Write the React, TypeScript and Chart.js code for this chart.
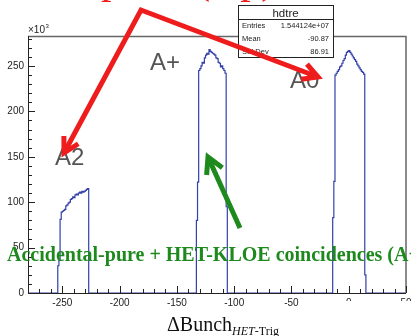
import React, { useEffect, useRef } from "react";
import { Chart, registerables } from "chart.js";

Chart.register(...registerables);

// ---- axis ranges / ticks ----
const X_MIN = -280;
const X_MAX = 50;
const Y_MAX = 283; // in units of 10^3
const X_TICKS = [-250, -200, -150, -100, -50, 0, 50];
const Y_TICKS = [0, 50, 100, 150, 200, 250];

// ---- histogram contents (bin width 1, counts in 10^3) ----
const A2_START = -254;
const A2_COUNTS = [30, 36, 81, 89, 90, 91, 92, 96, 97, 99, 100, 103, 104, 106, 105, 108, 109, 108, 110, 111, 110, 112, 111, 112, 113, 114, 115];
const APLUS_START = -133;
const APLUS_COUNTS = [80, 122, 245, 247, 250, 254, 253, 259, 262, 264, 263, 268, 266, 265, 264, 263, 262, 259, 258, 254, 253, 249, 250, 247, 245, 242, 95];
const A0_START = -14;
const A0_COUNTS = [83, 123, 240, 242, 244, 246, 249, 250, 253, 256, 258, 262, 265, 266, 267, 265, 263, 261, 259, 257, 255, 252, 250, 248, 246, 244, 243, 241, 20];

// ---- stats box ----
const HIST_NAME = "hdtre";
const STAT_LABELS = ["Entries", "Mean", "Std Dev"];
const STAT_VALUES = ["1.544124e+07", "-90.87", "86.91"];

// ---- annotations text ----
const PEAK_LABELS = ["A+", "A0", "A2"];
const RED_TEXT_1 = "Accidental-pure";
const RED_TEXT_2 = "(Ap)";
const GREEN_TEXT = "Accidental-pure + HET-KLOE coincidences (A+ sample)";

function buildPoints() {
  const m = new Map<number, number>();
  const peaks: [number, number[]][] = [
    [A2_START, A2_COUNTS],
    [APLUS_START, APLUS_COUNTS],
    [A0_START, A0_COUNTS],
  ];
  peaks.forEach(([s, arr]) => arr.forEach((v, i) => m.set(s + i, v)));
  const pts: { x: number; y: number }[] = [];
  for (let b = X_MIN; b < X_MAX; b++) pts.push({ x: b, y: m.get(b) ?? 0 });
  pts.push({ x: X_MAX, y: 0 });
  return pts;
}

function polyline(ctx: CanvasRenderingContext2D, pts: number[][], color: string, w: number) {
  ctx.save();
  ctx.strokeStyle = color;
  ctx.lineWidth = w;
  ctx.lineJoin = "miter";
  ctx.lineCap = "butt";
  ctx.beginPath();
  ctx.moveTo(pts[0][0], pts[0][1]);
  for (let i = 1; i < pts.length; i++) ctx.lineTo(pts[i][0], pts[i][1]);
  ctx.stroke();
  ctx.restore();
}

function head(ctx: CanvasRenderingContext2D, fx: number, fy: number, tx: number, ty: number, color: string, w: number, len: number) {
  const a = Math.atan2(ty - fy, tx - fx);
  const sp = 0.5;
  ctx.save();
  ctx.strokeStyle = color;
  ctx.lineWidth = w;
  ctx.lineJoin = "miter";
  ctx.beginPath();
  ctx.moveTo(tx - len * Math.cos(a - sp), ty - len * Math.sin(a - sp));
  ctx.lineTo(tx, ty);
  ctx.lineTo(tx - len * Math.cos(a + sp), ty - len * Math.sin(a + sp));
  ctx.stroke();
  ctx.restore();
}

const overlay = {
  id: "rootOverlay",
  afterDraw(chart: any) {
    const ctx: CanvasRenderingContext2D = chart.ctx;
    const { left, right, top, bottom } = chart.chartArea;
    const xs = chart.scales.x;
    const ys = chart.scales.y;
    ctx.save();

    // frame
    ctx.strokeStyle = "#666";
    ctx.lineWidth = 1.5;
    ctx.beginPath();
    ctx.moveTo(left, top + 0.5);
    ctx.lineTo(right, top + 0.5);
    ctx.lineTo(right, bottom);
    ctx.stroke();
    ctx.strokeStyle = "#222";
    ctx.lineWidth = 1;
    ctx.beginPath();
    ctx.moveTo(left + 0.5, top);
    ctx.lineTo(left + 0.5, bottom + 0.5);
    ctx.lineTo(right, bottom + 0.5);
    ctx.stroke();

    // inside ticks
    ctx.beginPath();
    for (let v = X_MIN; v <= X_MAX; v += 10) {
      const px = Math.round(xs.getPixelForValue(v)) + 0.5;
      const len = v % 50 === 0 ? 7 : 4;
      ctx.moveTo(px, bottom);
      ctx.lineTo(px, bottom - len);
    }
    for (let v = 0; v <= Y_MAX; v += 10) {
      const py = Math.round(ys.getPixelForValue(v)) + 0.5;
      const len = v % 50 === 0 ? 7 : 4;
      ctx.moveTo(left, py);
      ctx.lineTo(left + len, py);
    }
    ctx.stroke();

    // x10^3
    ctx.fillStyle = "#222";
    ctx.font = '10px "Liberation Sans"';
    ctx.textAlign = "left";
    ctx.textBaseline = "alphabetic";
    ctx.fillText("\u00d710", left, top - 3);
    const w10 = ctx.measureText("\u00d710").width;
    ctx.font = '6px "Liberation Sans"';
    ctx.fillText("3", left + w10 + 0.5, top - 8);

    // cover (as in the reference, lower right labels are partly hidden)
    ctx.fillStyle = "#fff";
    ctx.fillRect(330, 301, 90, 40);

    // stats box
    const bx = 238, by = 5, bw = 95, bh = 52;
    ctx.fillStyle = "#fff";
    ctx.fillRect(bx, by, bw, bh);
    ctx.strokeStyle = "#222";
    ctx.lineWidth = 1;
    ctx.strokeRect(bx + 0.5, by + 0.5, bw, bh);
    ctx.beginPath();
    ctx.moveTo(bx, by + 14.5);
    ctx.lineTo(bx + bw, by + 14.5);
    ctx.stroke();
    ctx.fillStyle = "#222";
    ctx.font = '11.5px "Liberation Sans"';
    ctx.textAlign = "center";
    ctx.textBaseline = "alphabetic";
    ctx.fillText(HIST_NAME, bx + bw / 2, by + 11.5);
    ctx.font = '7.5px "Liberation Sans"';
    STAT_LABELS.forEach((lab, i) => {
      const yy = by + 23 + i * 13.2;
      ctx.textAlign = "left";
      ctx.fillText(lab, bx + 4, yy);
      ctx.textAlign = "right";
      ctx.fillText(STAT_VALUES[i], bx + bw - 4, yy);
    });

    // peak labels
    ctx.fillStyle = "#555";
    ctx.font = '24px "Liberation Sans"';
    ctx.textAlign = "left";
    ctx.fillText(PEAK_LABELS[0], 150, 70);
    ctx.fillText(PEAK_LABELS[1], 290, 88);
    ctx.fillText(PEAK_LABELS[2], 55, 165);

    // red title (almost entirely above the picture: only descenders show)
    const red = "#ee1c1c";
    ctx.fillStyle = red;
    ctx.font = '42px "Liberation Serif"';
    ctx.textAlign = "left";
    ctx.textBaseline = "alphabetic";
    const pre = ctx.measureText("Accidental-").width;
    ctx.fillText(RED_TEXT_1, 101 - pre, -7);
    ctx.fillText(RED_TEXT_2, 196, -7);

    // red arrows
    polyline(ctx, [[64, 153], [141, 10], [318, 77]], red, 5);
    head(ctx, 141, 10, 64, 153, red, 5, 17);
    head(ctx, 141, 10, 318, 77, red, 5, 17);

    // green text and arrow
    const green = "#1e8a1e";
    ctx.fillStyle = green;
    ctx.font = 'bold 20px "Liberation Serif"';
    ctx.fillText(GREEN_TEXT, 7, 261);
    polyline(ctx, [[240, 228], [208, 157]], green, 5);
    head(ctx, 240, 228, 208, 157, green, 5, 18);

    // x-axis title
    ctx.fillStyle = "#111";
    ctx.font = '20px "Liberation Serif"';
    ctx.fillText("\u0394Bunch", 167, 331);
    let tx = 167 + ctx.measureText("\u0394Bunch").width;
    ctx.font = 'italic 12px "Liberation Serif"';
    ctx.fillText("HET", tx, 335);
    tx += ctx.measureText("HET").width;
    ctx.font = '12px "Liberation Serif"';
    ctx.fillText("-Trig", tx, 335);

    ctx.restore();
  },
};

export default function App() {
  const ref = useRef<HTMLCanvasElement | null>(null);
  useEffect(() => {
    document.body.style.margin = "0";
    const canvas = ref.current;
    if (!canvas) return;
    const chart = new Chart(canvas, {
      type: "line",
      data: {
        datasets: [
          {
            data: buildPoints(),
            borderColor: "#3340a8",
            borderWidth: 1.2,
            pointRadius: 0,
            stepped: true,
            fill: false,
          } as any,
        ],
      },
      options: {
        animation: false,
        responsive: false,
        devicePixelRatio: 1,
        layout: { padding: { top: 36, right: 5, left: 0, bottom: 0 } },
        plugins: { legend: { display: false }, tooltip: { enabled: false } },
        scales: {
          x: {
            type: "linear",
            min: X_MIN,
            max: X_MAX,
            afterFit: (s: any) => {
              s.height = 43;
              s.paddingLeft = 0;
              s.paddingRight = 0;
            },
            afterBuildTicks: (s: any) => {
              s.ticks = X_TICKS.map((v) => ({ value: v }));
            },
            grid: { display: false, drawTicks: false },
            border: { display: false },
            ticks: {
              autoSkip: false,
              maxRotation: 0,
              padding: 4,
              color: "#222",
              font: { family: "Liberation Sans", size: 10 },
              callback: (v: any) => String(v),
            },
          },
          y: {
            type: "linear",
            min: 0,
            max: Y_MAX,
            afterFit: (s: any) => {
              s.width = 28;
              s.paddingTop = 0;
              s.paddingBottom = 0;
            },
            afterBuildTicks: (s: any) => {
              s.ticks = Y_TICKS.map((v) => ({ value: v }));
            },
            grid: { display: false, drawTicks: false },
            border: { display: false },
            ticks: {
              autoSkip: false,
              padding: 4,
              color: "#222",
              font: { family: "Liberation Sans", size: 10 },
              callback: (v: any) => String(v),
            },
          },
        },
      },
      plugins: [overlay],
    });
    return () => chart.destroy();
  }, []);
  return (
    <div style={{ width: 411, height: 336, background: "#fff" }}>
      <canvas ref={ref} width={411} height={336} style={{ display: "block" }} />
    </div>
  );
}
